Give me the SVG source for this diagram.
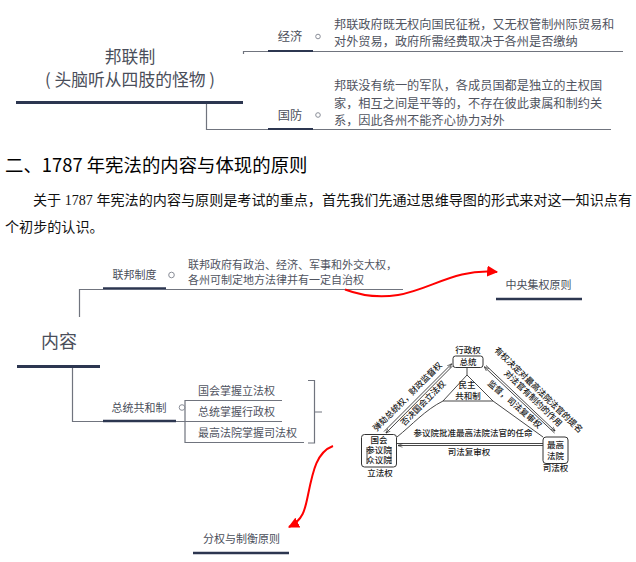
<svg xmlns="http://www.w3.org/2000/svg" width="636" height="562" viewBox="0 0 636 562">
<defs>
<marker id="red" viewBox="0 0 10 10" refX="9" refY="5" markerWidth="11" markerHeight="11" markerUnits="userSpaceOnUse" orient="auto"><path d="M0 0L10 5L0 10Z" fill="#f00"/></marker>
<marker id="tip" viewBox="0 0 10 10" refX="9" refY="5" markerWidth="5" markerHeight="5" markerUnits="userSpaceOnUse" orient="auto"><path d="M0 1.5L10 5L0 8.500" fill="none" stroke="#222" stroke-width="1.200"/></marker>
</defs>
<style>
text{font-family:"Noto Sans CJK SC","Noto Sans",sans-serif;fill:#50545f}
.t{fill:#4a4e5a;text-anchor:middle}
.s{font-size:11px}
.b{font-size:12.200px}
.h{fill:#000;font-size:18.400px}
.p{fill:#111;font-size:14.100px;font-family:"Liberation Serif","Noto Sans CJK SC",serif}
.d{fill:#222;font-size:8.500px;text-anchor:middle;font-weight:500}
.l{fill:none;stroke:#70747e;stroke-width:1.200}
.bar{fill:none;stroke:#2c3650}
.dl{fill:none;stroke:#333;stroke-width:.9}
.box{fill:#fff;stroke:#333;stroke-width:1}
.red{fill:none;stroke:#f00;stroke-width:2;marker-end:url(#red)}
</style>
<rect width="636" height="562" fill="#fff"/>

<g id="connectors">
<path class="l" d="M243.500 54V51.500H268M313 51.500H623"/>
<path class="l" d="M206.500 103V129.500H268M313 129.500H611"/>
<path class="l" d="M79.500 317V289.500H103M166 289.500H403"/>
<path class="l" d="M72.500 367V421.500H103M176 421.500H185"/>
<path class="l" d="M282 400.500H185V442.500H304M185 421.500H282"/>
<path class="l" d="M308 380.500H314.500V443H308M314.500 412H322"/>
<path class="red" d="M345 289.500C362 296 378 298 398 295C430 290 455 268 497 272"/>
<path class="red" d="M333 446C317 452 313 470 308 495C305 510 303 520 289 527"/>
</g>

<g id="bars">
<path class="bar" stroke-width="3" d="M16 102.500H243"/>
<path class="bar" stroke-width="2.200" d="M268 51H313M268 129H313"/>
<path class="bar" stroke-width="2.500" d="M103 288.500H166"/>
<path class="bar" stroke-width="3" d="M17 366.500H100"/>
<path class="bar" stroke-width="2.500" d="M103 421H176"/>
<path class="bar" stroke-width="2.500" d="M496 299H582"/>
<path class="bar" stroke-width="2.500" d="M193 553H289"/>
</g>

<g id="node-federation">
<text class="t" x="130" y="63" font-size="16.800">邦联制</text>
<text class="t" x="130" y="86" font-size="16.800">( 头脑听从四肢的怪物 )</text>
</g>
<g id="node-economy">
<text class="t" x="290" y="41" font-size="12.200">经济</text>
<circle cx="318" cy="36.500" r="2.300" fill="none" stroke="#8a8e98"/>
<text class="b" x="334" y="28.500">邦联政府既无权向国民征税，又无权管制州际贸易和</text>
<text class="b" x="334" y="45.500">对外贸易，政府所需经费取决于各州是否缴纳</text>
</g>
<g id="node-defense">
<text class="t" x="290" y="120" font-size="12.200">国防</text>
<circle cx="318" cy="115" r="2.300" fill="none" stroke="#8a8e98"/>
<text class="b" x="334" y="90">邦联没有统一的军队，各成员国都是独立的主权国</text>
<text class="b" x="334" y="107.500">家，相互之间是平等的，不存在彼此隶属和制约关</text>
<text class="b" x="334" y="125">系，因此各州不能齐心协力对外</text>
</g>

<g id="section-text">
<text class="h" x="5" y="171.500">二、1787 年宪法的内容与体现的原则</text>
<text class="p" x="33" y="204.500">关于 1787 年宪法的内容与原则是考试的重点，首先我们先通过思维导图的形式来对这一知识点有</text>
<text class="p" x="5" y="231.500">个初步的认识。</text>
</g>

<g id="node-content">
<text class="t" x="59" y="348" font-size="18">内容</text>
</g>
<g id="node-federal-system">
<text class="t s" x="134.500" y="279">联邦制度</text>
<circle cx="171.500" cy="275" r="2.800" fill="none" stroke="#8a8e98"/>
<text class="s" x="188" y="269">联邦政府有政治、经济、军事和外交大权，</text>
<text class="s" x="188" y="283.500">各州可制定地方法律并有一定自治权</text>
</g>
<g id="node-centralism">
<text class="t s" x="538.500" y="289">中央集权原则</text>
</g>
<g id="node-presidential">
<text class="t s" x="139" y="411.500">总统共和制</text>
<circle cx="182" cy="407.500" r="2.800" fill="none" stroke="#8a8e98"/>
<text class="s" x="198" y="395">国会掌握立法权</text>
<text class="s" x="198" y="416">总统掌握行政权</text>
<text class="s" x="198" y="437">最高法院掌握司法权</text>
</g>
<g id="node-separation">
<text class="t s" x="241.500" y="543">分权与制衡原则</text>
</g>

<g id="figure-connectors">
<path class="dl" d="M467 367V375L443 401H493L467 375M443 401C425 410 412 425 397 437M493 401L543 437"/>
<path class="dl" d="M384 431.500L451.500 364" marker-end="url(#tip)"/>
<path class="dl" d="M452.500 366L386 433" marker-end="url(#tip)"/>
<path class="dl" d="M486 365.500L555 431" marker-end="url(#tip)"/>
<path class="dl" d="M554.500 433L484.500 367" marker-end="url(#tip)"/>
<path class="dl" d="M397 443.500H543"/>
<path class="dl" d="M543 445.500H398" marker-end="url(#tip)"/>
</g>
<g id="figure-executive">
<rect class="box" x="453" y="356" width="30" height="11.500" rx="2.500"/>
<text class="d" x="468" y="353">行政权</text>
<text class="d" x="468" y="365">总统</text>
</g>
<g id="figure-legislative">
<rect class="box" x="361.500" y="434.500" width="35" height="32.500" rx="3"/>
<path class="dl" d="M367 447V464M391 447V464"/>
<text class="d" x="379" y="442.500">国会</text>
<text class="d" x="379" y="452.500">参议院</text>
<text class="d" x="379" y="462.500">众议院</text>
<text class="d" x="380" y="476">立法权</text>
</g>
<g id="figure-judicial">
<rect class="box" x="543" y="437" width="25" height="26.500" rx="3"/>
<text class="d" x="555.500" y="447.500">最高</text>
<text class="d" x="555.500" y="459">法院</text>
<text class="d" x="555.500" y="470.500">司法权</text>
</g>
<g id="figure-democracy">
<text class="d" x="467" y="388">民主</text>
<text class="d" x="468" y="399">共和制</text>
</g>
<g id="figure-labels">
<text class="d" transform="translate(409.500 398.700) rotate(-45)">弹劾总统权，财政监督权</text>
<text class="d" transform="translate(425.300 405.300) rotate(-45)">否决国会立法权</text>
<text class="d" transform="translate(536.500 392) rotate(44)">有权决定对最高法院法官的提名</text>
<text class="d" transform="translate(531 400.500) rotate(44)">对法官有制约的作用</text>
<text class="d" transform="translate(512.700 406.500) rotate(41)">监督，司法复审权</text>
<text class="d" x="473" y="436">参议院批准最高法院法官的任命</text>
<text class="d" x="469" y="455">司法复审权</text>
</g>
</svg>
